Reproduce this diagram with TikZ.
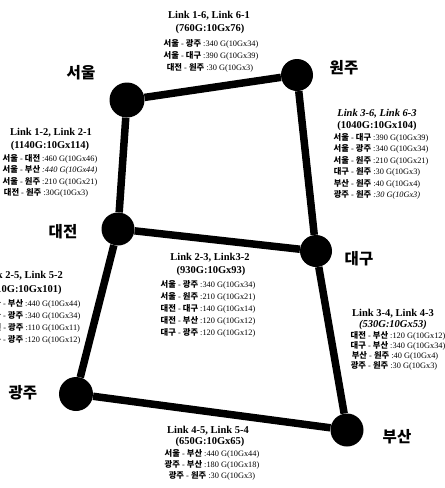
\documentclass[tikz,border=0pt]{standalone}
\usepackage{fontspec}
\setmainfont{Liberation Serif}
\newfontfamily\kr{Noto Sans CJK KR}
\newcommand\K[1]{{\kr\bfseries #1}}
\begin{document}
\begin{tikzpicture}[x=1pt,y=-1pt,
  stn/.style={circle, fill=black, inner sep=0pt, minimum size=34pt},
  link/.style={line width=7.5pt, black},
  city/.style={font=\kr\bfseries\fontsize{15.5}{18}\selectfont, inner sep=0pt},
  ttl/.style={font=\bfseries\fontsize{10.5}{12}\selectfont, inner sep=0pt, anchor=base, yshift=-3.6pt},
  sm/.style={font=\fontsize{8.3}{10}\selectfont, inner sep=0pt, anchor=base, yshift=-3pt}]
\useasboundingbox (0,0) rectangle (445,488);
\clip (0,0) rectangle (445,488);
\fill[white] (0,0) rectangle (445,488);

% stations
\node[stn, minimum size=35pt] (seoul) at (127,100) {};
\node[stn, minimum size=32pt] (wonju) at (297,75) {};
\node[stn, minimum size=33pt] (daejeon) at (118,229) {};
\node[stn, minimum size=32pt] (daegu) at (316,251) {};
\node[stn, minimum size=34pt] (gwangju) at (76,394) {};
\node[stn, minimum size=33pt] (busan) at (347,430) {};

% links
\draw[link] (seoul) -- (wonju);
\draw[link] (seoul) -- (daejeon);
\draw[link] (wonju) -- (daegu);
\draw[link] (daejeon) -- (daegu);
\draw[link] (daejeon) -- (gwangju);
\draw[link] (daegu) -- (busan);
\draw[link] (gwangju) -- (busan);

% city labels
\node[city] (lseoul) at (81,73) {서울};
\node[city] (lwonju) at (344,68) {원주};
\node[city] (ldaejeon) at (63,232) {대전};
\node[city] (ldaegu) at (359,259) {대구};
\node[city] (lgwangju) at (23,393) {광주};
\node[city] (lbusan) at (397,437) {부산};

% Link 1-6
\node[ttl] (a1) at (209,15) {Link 1-6, Link 6-1};
\node[ttl] (a2) at (210,28) {(760G:10Gx76)};
\node[sm] (a3) at (211,43) {\K{서울} - \K{광주} :340 G(10Gx34)};
\node[sm] (a4) at (211,55) {\K{서울} - \K{대구} :390 G(10Gx39)};
\node[sm] (a5) at (210,67) {\K{대전} - \K{원주} :30 G(10Gx3)};

% Link 1-2
\node[ttl] (b1) at (51,132) {Link 1-2, Link 2-1};
\node[ttl] (b2) at (50,145) {(1140G:10Gx114)};
\node[sm] (b3) at (50,158) {\K{서울} - \K{대전} :460 G(10Gx46)};
\node[sm] (b4) at (50,169.5) {\K{서울} - \K{부산} \textit{:440 G(10Gx44)}};
\node[sm] (b5) at (50,181) {\K{서울} - \K{원주} :210 G(10Gx21)};
\node[sm] (b6) at (46,192.5) {\K{대전} - \K{원주} :30G(10Gx3)};

% Link 3-6
\node[ttl] (c1) at (377,113) {\textit{Link 3-6, Link 6-3}};
\node[ttl] (c2) at (377,125) {(1040G:10Gx104)};
\node[sm] (c3) at (381,137) {\K{서울} - \K{대구} :390 G(10Gx39)};
\node[sm] (c4) at (381,148.5) {\K{서울} - \K{광주} :340 G(10Gx34)};
\node[sm] (c5) at (381,160) {\K{서울} - \K{원주} :210 G(10Gx21)};
\node[sm] (c6) at (377,171.5) {\K{대구} - \K{원주} :30 G(10Gx3)};
\node[sm] (c7) at (377,183) {\K{부산} - \K{원주} :40 G(10Gx4)};
\node[sm] (c8) at (377,194.5) {\K{광주} - \K{원주} \textit{:30 G(10Gx3)}};

% Link 2-5
\node[ttl] (d1) at (22,275) {Link 2-5, Link 5-2};
\node[ttl] (d2) at (22,289) {(1010G:10Gx101)};
\node[sm] (d3) at (33,303) {\K{서울} - \K{부산} :440 G(10Gx44)};
\node[sm] (d4) at (33,315) {\K{서울} - \K{광주} :340 G(10Gx34)};
\node[sm] (d5) at (33,327) {\K{대전} - \K{광주} :110 G(10Gx11)};
\node[sm] (d6) at (33,339) {\K{대구} - \K{광주} :120 G(10Gx12)};

% Link 2-3
\node[ttl] (e1) at (210,257) {Link 2-3, Link3-2};
\node[ttl] (e2) at (211,270) {(930G:10Gx93)};
\node[sm] (e3) at (208,284) {\K{서울} - \K{광주} :340 G(10Gx34)};
\node[sm] (e4) at (208,296) {\K{서울} - \K{원주} :210 G(10Gx21)};
\node[sm] (e5) at (208,308) {\K{대전} - \K{대구} :140 G(10Gx14)};
\node[sm] (e6) at (208,320) {\K{대전} - \K{부산} :120 G(10Gx12)};
\node[sm] (e7) at (208,332) {\K{대구} - \K{광주} :120 G(10Gx12)};

% Link 3-4
\node[ttl] (f1) at (393,313) {Link 3-4, Link 4-3};
\node[ttl] (f2) at (393,324) {\textit{(530G:10Gx53)}};
\node[sm] (f3) at (398,335) {\K{대전} - \K{부산} :120 G(10Gx12)};
\node[sm] (f4) at (398,345) {\K{대구} - \K{부산} :340 G(10Gx34)};
\node[sm] (f5) at (395,355) {\K{부산} - \K{원주} :40 G(10Gx4)};
\node[sm] (f6) at (394,365) {\K{광주} - \K{원주} :30 G(10Gx3)};

% Link 4-5
\node[ttl] (g1) at (208,430) {Link 4-5, Link 5-4};
\node[ttl] (g2) at (210,441) {(650G:10Gx65)};
\node[sm] (g3) at (212,453) {\K{서울} - \K{부산} :440 G(10Gx44)};
\node[sm] (g4) at (212,464) {\K{광주} - \K{부산} :180 G(10Gx18)};
\node[sm] (g5) at (212,475) {\K{광주} - \K{원주} :30 G(10Gx3)};
\end{tikzpicture}
\end{document}
